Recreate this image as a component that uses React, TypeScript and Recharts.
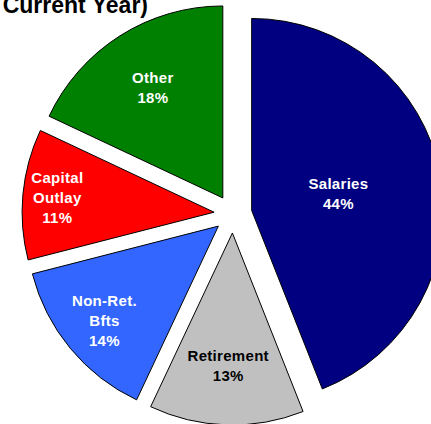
import { PieChart, Pie, Cell } from "recharts";

// budget shares, clockwise from 12 o'clock
const categories = ["Salaries", "Retirement", "Non-Ret. Bfts", "Capital Outlay", "Other"];
const shares = [44, 13, 14, 11, 18];
const labelLines = [["Salaries"], ["Retirement"], ["Non-Ret.", "Bfts"], ["Capital", "Outlay"], ["Other"]];

const sliceColors = ["#000080", "#C0C0C0", "#3366FF", "#FF0000", "#008000"];
const textColors = ["#fff", "#000", "#fff", "#fff", "#fff"];
// how far out along the slice the label block sits (fraction of radius)
const labelRadius = [0.46, 0.69, 0.77, 0.82, 0.68];

const W = 431;
const H = 424;
const CX = 233;
const CY = 214;
const R = 192;
const EXPLODE = 19;
const LINE_H = 20;
const CAP_H = 11;

const rows = categories.map((name, i) => ({ name, value: shares[i] }));
const total = shares.reduce((a, b) => a + b, 0);

// mid angle of each slice in recharts degrees (0 = 3 o'clock, ccw positive)
const midAngles = shares.map((v, i) => {
  const before = shares.slice(0, i).reduce((a, b) => a + b, 0);
  return 90 - (360 * (before + v / 2)) / total;
});

const RAD = Math.PI / 180;

function makeLabel(idx: number) {
  return (props: any) => {
    if (props.index !== idx) return null;
    const { cx, cy, midAngle, outerRadius } = props;
    const r = outerRadius * labelRadius[idx];
    const x = cx + r * Math.cos(midAngle * RAD);
    const y = cy - r * Math.sin(midAngle * RAD);
    const lines = [...labelLines[idx], `${shares[idx]}%`];
    const blockH = CAP_H + (lines.length - 1) * LINE_H;
    const y0 = y - blockH / 2 + CAP_H;
    return (
      <text
        x={x}
        y={y0}
        textAnchor="middle"
        fill={textColors[idx]}
        fontFamily="'Liberation Sans', Arial, sans-serif"
        fontWeight="bold"
        fontSize={15}
        letterSpacing={0.3}
      >
        {lines.map((t, k) => (
          <tspan key={k} x={x} y={y0 + k * LINE_H}>
            {t}
          </tspan>
        ))}
      </text>
    );
  };
}

export default function App() {
  return (
    <div style={{ position: "absolute", left: 0, top: 0, width: W, height: H, overflow: "hidden", background: "#fff" }}>
      <PieChart width={W} height={H} margin={{ top: 0, right: 0, bottom: 0, left: 0 }}>
        {rows.map((_, i) => {
          const dx = EXPLODE * Math.cos(midAngles[i] * RAD);
          const dy = -EXPLODE * Math.sin(midAngles[i] * RAD);
          return (
            <Pie
              key={i}
              data={rows}
              dataKey="value"
              nameKey="name"
              cx={CX + dx}
              cy={CY + dy}
              innerRadius={0}
              outerRadius={R}
              startAngle={90}
              endAngle={-270}
              isAnimationActive={false}
              labelLine={false}
              label={makeLabel(i)}
            >
              {rows.map((__, j) => (
                <Cell
                  key={j}
                  fill={j === i ? sliceColors[j] : "none"}
                  stroke={j === i ? "#000" : "none"}
                  strokeWidth={1}
                />
              ))}
            </Pie>
          );
        })}
      </PieChart>
      <svg width={W} height={H} style={{ position: "absolute", left: 0, top: 0, pointerEvents: "none" }}>
        <text
          x={148}
          y={12.5}
          textAnchor="end"
          fontFamily="'Liberation Sans', Arial, sans-serif"
          fontWeight="bold"
          fontSize={23}
          fill="#000"
        >
          Current Year)
        </text>
      </svg>
    </div>
  );
}
